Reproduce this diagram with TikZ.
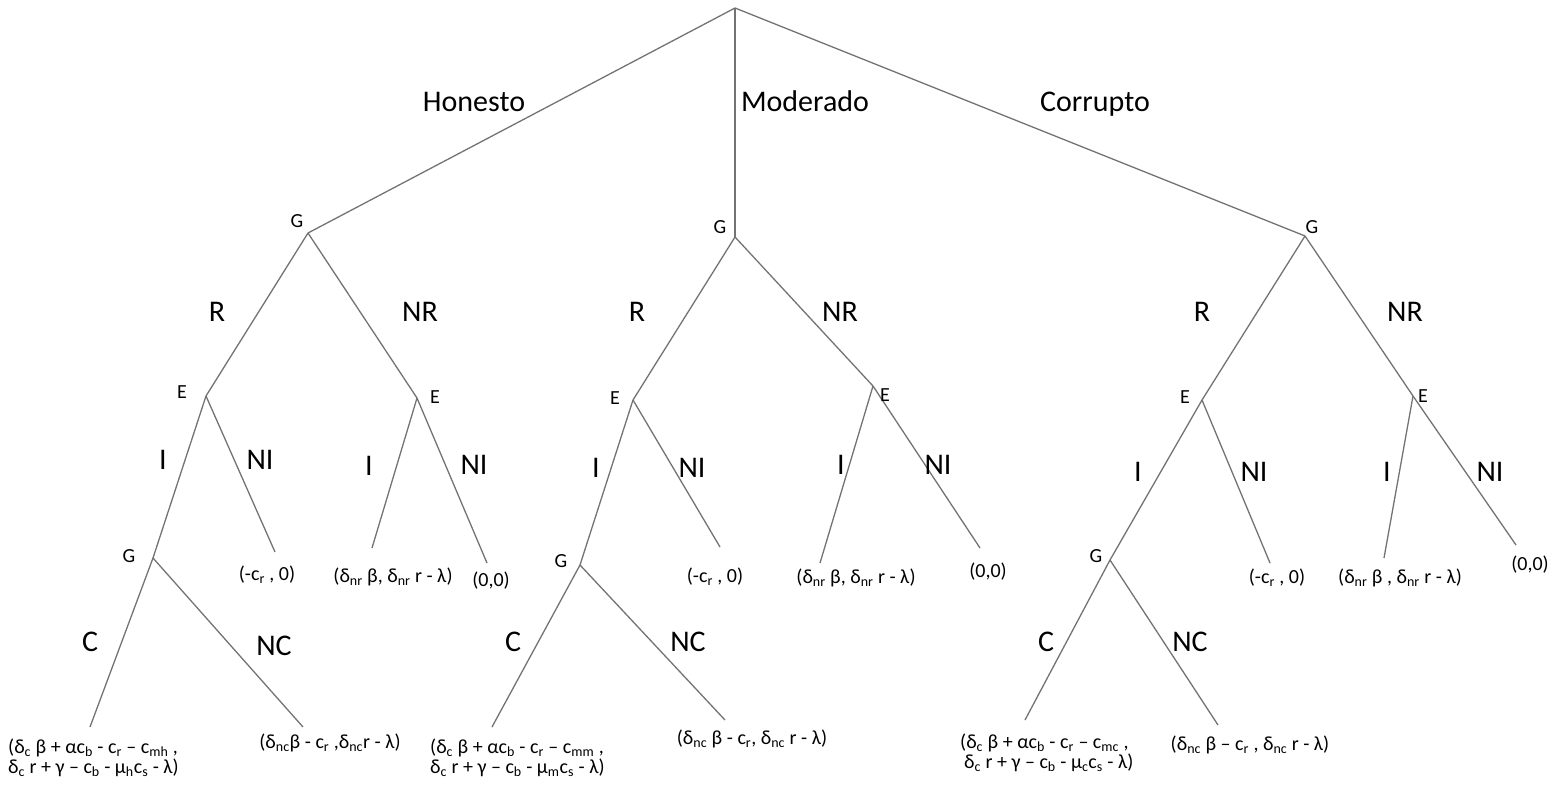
\documentclass[tikz,border=0pt]{standalone}
\usepackage{fontspec}
\setmainfont{Carlito}
\newcommand\sbs[1]{\textsubscript{#1}}
\begin{document}
\begin{tikzpicture}[x=1pt,y=-1pt,
  edge/.style={draw=black!55,line width=1.3pt},
  big/.style={inner sep=0pt,font=\fontsize{30}{34}\selectfont},
  small/.style={inner sep=0pt,font=\fontsize{20}{22}\selectfont},
  pay/.style={inner sep=0pt,font=\fontsize{20}{22}\selectfont},
  payl/.style={inner sep=0pt,anchor=west,align=left,font=\fontsize{20}{20}\selectfont}]
\useasboundingbox (0,0) rectangle (1552,785);
% vertices
\coordinate (root) at (735,8);
\coordinate (hG) at (308,233);
\coordinate (mG) at (735,237);
\coordinate (cG) at (1305,236);
\coordinate (hE1) at (206,396);
\coordinate (hE2) at (417,398);
\coordinate (hG2) at (153,558);
\coordinate (hL1) at (275,552);
\coordinate (hL2) at (372,548);
\coordinate (hL3) at (487,563);
\coordinate (hL4) at (90,727);
\coordinate (hL5) at (303,727);
\coordinate (mE1) at (633,400);
\coordinate (mE2) at (873,386);
\coordinate (mG2) at (580,565);
\coordinate (mL1) at (720,547);
\coordinate (mL2) at (820,563);
\coordinate (mL3) at (980,548);
\coordinate (mL4) at (492,727);
\coordinate (mL5) at (725,720);
\coordinate (cE1) at (1202,400);
\coordinate (cE2) at (1413,396);
\coordinate (cG2) at (1110,560);
\coordinate (cL1) at (1270,563);
\coordinate (cL2) at (1384,558);
\coordinate (cL3) at (1516,545);
\coordinate (cL4) at (1025,720);
\coordinate (cL5) at (1218,725);
% edges
\draw[edge] (root) -- (hG);
\draw[edge] (root) -- (mG);
\draw[edge] (root) -- (cG);
\foreach \p in {h,m,c}{
  \draw[edge] (\p G) -- (\p E1);
  \draw[edge] (\p G) -- (\p E2);
  \draw[edge] (\p E1) -- (\p G2);
  \draw[edge] (\p E1) -- (\p L1);
  \draw[edge] (\p E2) -- (\p L2);
  \draw[edge] (\p E2) -- (\p L3);
  \draw[edge] (\p G2) -- (\p L4);
  \draw[edge] (\p G2) -- (\p L5);
}
% top labels
\node[big,anchor=base] (tH) at (474,111) {Honesto};
\node[big,anchor=base] (tM) at (805,111) {Moderado};
\node[big,anchor=base] (tC) at (1095,111) {Corrupto};
% player labels
\node[small] (lhG) at (297,221) {G};
\node[small] (lmG) at (720,227) {G};
\node[small] (lcG) at (1312,227) {G};
\node[small] (lhE1) at (182,392) {E};
\node[small] (lhE2) at (435,397) {E};
\node[small] (lmE1) at (615,398) {E};
\node[small] (lmE2) at (885,395) {E};
\node[small] (lcE1) at (1185,397) {E};
\node[small] (lcE2) at (1423,396) {E};
\node[small] (lhG2) at (129,556) {G};
\node[small] (lmG2) at (561,561) {G};
\node[small] (lcG2) at (1096,556) {G};
% action labels
\node[big] (ahR) at (217,312) {R};
\node[big] (ahNR) at (420,312) {NR};
\node[big] (amR) at (637,312) {R};
\node[big] (amNR) at (840,312) {NR};
\node[big] (acR) at (1202,312) {R};
\node[big] (acNR) at (1405,312) {NR};
\node[big] (ahI1) at (163,460) {I};
\node[big] (ahNI1) at (260,460) {NI};
\node[big] (ahI2) at (369,466) {I};
\node[big] (ahNI2) at (474,465) {NI};
\node[big] (amI1) at (596,468) {I};
\node[big] (amNI1) at (692,468) {NI};
\node[big] (amI2) at (841,465) {I};
\node[big] (amNI2) at (938,465) {NI};
\node[big] (acI1) at (1138,472) {I};
\node[big] (acNI1) at (1254,472) {NI};
\node[big] (acI2) at (1387,472) {I};
\node[big] (acNI2) at (1490,472) {NI};
\node[big] (ahC) at (90,642) {C};
\node[big] (ahNC) at (274,646) {NC};
\node[big] (amC) at (513,642) {C};
\node[big] (amNC) at (688,642) {NC};
\node[big] (acC) at (1046,642) {C};
\node[big] (acNC) at (1190,642) {NC};
% leaf payoffs
\node[pay] (phL1) at (267,575) {(-c\sbs{r} , 0)};
\node[pay] (phL2) at (393,577) {(δ\sbs{nr} β, δ\sbs{nr} r - λ)};
\node[pay] (phL3) at (491,581) {(0,0)};
\node[pay] (pmL1) at (715,577) {(-c\sbs{r} , 0)};
\node[pay] (pmL2) at (856,578) {(δ\sbs{nr} β, δ\sbs{nr} r - λ)};
\node[pay] (pmL3) at (988,572) {(0,0)};
\node[pay] (pcL1) at (1277,578) {(-c\sbs{r} , 0)};
\node[pay] (pcL2) at (1400,578) {(δ\sbs{nr} β , δ\sbs{nr} r - λ)};
\node[pay] (pcL3) at (1530,565) {(0,0)};
\node[payl] (phL4) at (8,758) {(δ\sbs{c} β + αc\sbs{b} - c\sbs{r} – c\sbs{mh} ,\\δ\sbs{c} r + γ – c\sbs{b} - μ\sbs{h}c\sbs{s} - λ)};
\node[pay] (phL5) at (330,743) {(δ\sbs{nc}β - c\sbs{r} ,δ\sbs{nc}r - λ)};
\node[payl] (pmL4) at (430,758) {(δ\sbs{c} β + αc\sbs{b} - c\sbs{r} – c\sbs{mm} ,\\δ\sbs{c} r + γ – c\sbs{b} - μ\sbs{m}c\sbs{s} - λ)};
\node[pay] (pmL5) at (752,739) {(δ\sbs{nc} β - c\sbs{r}, δ\sbs{nc} r - λ)};
\node[payl] (pcL4) at (960,753) {(δ\sbs{c} β + αc\sbs{b} - c\sbs{r} – c\sbs{mc} ,\\\hspace*{4pt}δ\sbs{c} r + γ – c\sbs{b} - μ\sbs{c}c\sbs{s} - λ)};
\node[pay] (pcL5) at (1250,745) {(δ\sbs{nc} β – c\sbs{r} , δ\sbs{nc} r - λ)};
\end{tikzpicture}
\end{document}
